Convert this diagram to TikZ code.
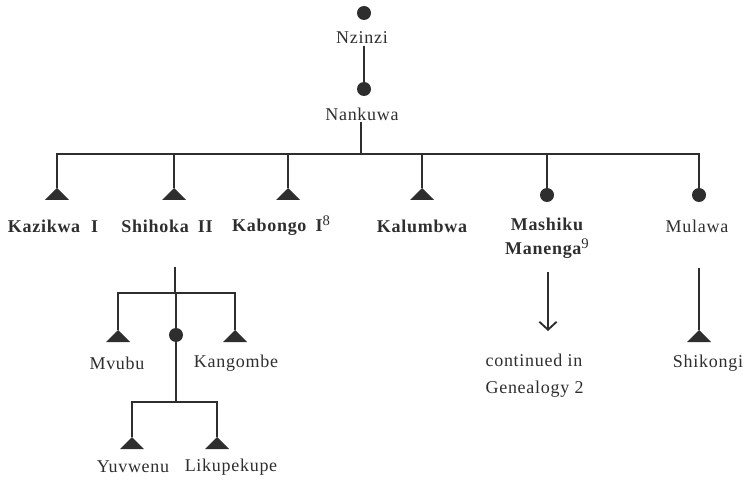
\documentclass[tikz,border=0pt]{standalone}
\usepackage{fontspec}
\setmainfont{Liberation Serif}[LetterSpace=4]
\usetikzlibrary{arrows.meta}
\definecolor{ink}{HTML}{2E2E2E}
\tikzset{
  ln/.style={draw=ink, line width=1.8pt},
  mtri/.style={minimum width=18pt, minimum height=9pt, inner sep=0pt,
    path picture={\fill[ink] (path picture bounding box.south west) -- (path picture bounding box.north) -- (path picture bounding box.south east) -- cycle;}},
  fdot/.style={circle, fill=ink, minimum size=10.5pt, inner sep=0pt},
  lbl/.style={text=ink, font=\fontsize{13.5}{18}\selectfont, inner sep=1pt},
  blbl/.style={lbl, font=\fontsize{13.5}{18}\selectfont\bfseries},
}
\newcommand{\supn}[1]{\raisebox{0.7ex}{\fontsize{11}{11}\selectfont\mdseries #1}}
\begin{document}
\begin{tikzpicture}[x=0.75pt, y=-0.75pt]
\useasboundingbox (0,0) rectangle (750,481);
% top
\node[fdot] (nzd) at (364,13) {};
\node[lbl] (nz) at (362,38) {Nzinzi};
\node[fdot] (nkd) at (364,89) {};
\node[lbl] (nk) at (362,114) {Nankuwa};
\draw[ln] (nz.south -| nkd.north) -- (nkd.north);
\coordinate (b1) at (0,154);
% generation markers
\node[mtri] (kazm) at (57,194) {};
\node[mtri] (shim) at (174,194) {};
\node[mtri] (kabm) at (288,194) {};
\node[mtri] (kalm) at (422,194) {};
\node[fdot] (masm) at (547,195) {};
\node[fdot] (mulm) at (699,195) {};
\draw[ln] (nk.south -| 361,0) -- (361,154);
\draw[ln] (kazm.north) -- (kazm.north |- b1) -- (mulm.north |- b1) -- (mulm.north);
\foreach \m in {shim,kabm,kalm,masm} \draw[ln] (\m.north) -- (\m.north |- b1);
% labels
\node[blbl] (kaz) at (53,226) {Kazikwa\hspace{0.6em}I};
\node[blbl] (shi) at (167,226) {Shihoka\hspace{0.5em}II};
\node[blbl] (kab) at (281,226) {Kabongo\hspace{0.5em}I\supn{8}};
\node[blbl] (kal) at (422,226) {Kalumbwa};
\node[blbl, align=center] (mas) at (547,238) {Mashiku\\Manenga\supn{9}};
\node[lbl] (mul) at (697,226) {Mulawa};
% Shihoka subtree
\coordinate (s0) at (175,267);
\coordinate (b2) at (0,293);
\node[mtri] (mvm) at (118,336) {};
\node[fdot] (scm) at (176,335) {};
\node[mtri] (kgm) at (235,336) {};
\draw[ln] (s0) -- (s0 |- b2);
\draw[ln] (mvm.north) -- (mvm.north |- b2) -- (kgm.north |- b2) -- (kgm.north);
\draw[ln] (scm.north) -- (scm.north |- b2);
\node[lbl] (mv) at (117,363) {Mvubu};
\node[lbl] (kg) at (236,363) {Kangombe};
\coordinate (b3) at (0,402);
\node[mtri] (yum) at (132,443) {};
\node[mtri] (lim) at (217,443) {};
\draw[ln] (scm.south) -- (scm.south |- b3);
\draw[ln] (yum.north) -- (yum.north |- b3) -- (lim.north |- b3) -- (lim.north);
\node[lbl] (yu) at (133,467) {Yuvwenu};
\node[lbl] (li) at (231,467) {Likupekupe};
% Mashiku continuation
\coordinate (ma0) at (548,272);
\coordinate (ma1) at (548,331);
\draw[ln, -{Straight Barb[length=6pt, width=13pt, line width=1.4pt]}] (ma0) -- (ma1);
\node[lbl, align=left, anchor=west, font=\fontsize{13.5}{20}\selectfont] (cont) at (484,376) {continued in\\Genealogy 2};
% Mulawa
\coordinate (mu0) at (699,268);
\node[mtri] (shkm) at (699,336) {};
\draw[ln] (mu0) -- (shkm.north);
\node[lbl] (shk) at (708,363) {Shikongi};
\end{tikzpicture}
\end{document}
